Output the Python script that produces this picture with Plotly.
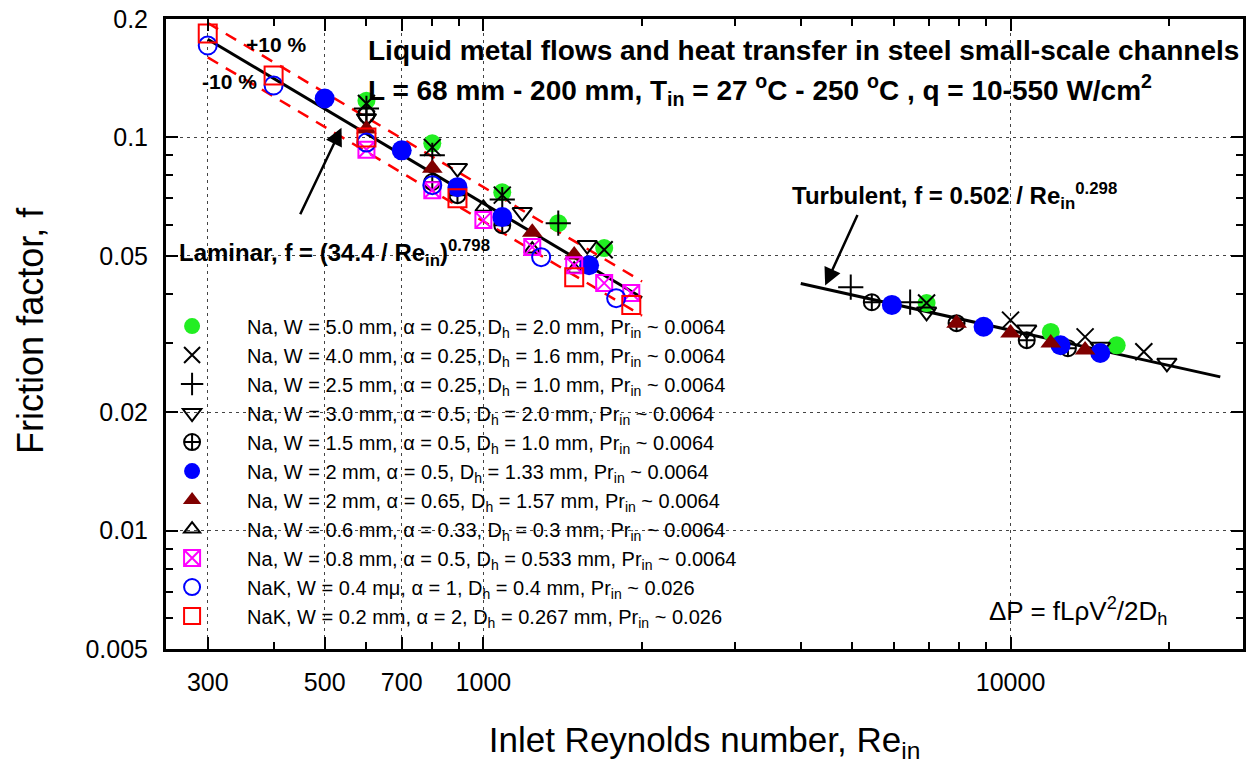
import plotly.graph_objects as go

# ---------------- data ----------------
green_re = [600, 800, 1086, 1387, 1695, 6930, 11920, 15900]
green_f = [0.124, 0.0966, 0.0725, 0.0605, 0.0523, 0.0379, 0.0320, 0.0296]

x_re = [600, 800, 1086, 1695, 6930, 10000, 13850, 17900]
x_f = [0.122, 0.0943, 0.0713, 0.0518, 0.0379, 0.0343, 0.0311, 0.0285]

plus_re = [600, 800, 1086, 1387, 4976, 6450]
plus_f = [0.1185, 0.090, 0.0695, 0.0605, 0.0416, 0.0381]

tdown_re = [600, 893, 1185, 1574, 6930, 10734, 14800, 19800]
tdown_f = [0.1117, 0.0835, 0.0645, 0.0532, 0.0360, 0.0324, 0.0293, 0.0267]

ccross_re = [600, 800, 893, 1086, 5456, 7900, 10734, 12850]
ccross_f = [0.114, 0.077, 0.0713, 0.0598, 0.0381, 0.0337, 0.0305, 0.0291]

blue_re = [500, 700, 893, 1086, 1587, 5956, 8890, 12440, 14800]
blue_f = [0.1256, 0.0927, 0.0747, 0.0627, 0.0473, 0.0375, 0.0330, 0.0296, 0.0283]

tri_re = [600, 800, 1238, 1487, 7900, 10000, 11920, 13850]
tri_f = [0.105, 0.0835, 0.0574, 0.0502, 0.0337, 0.0318, 0.0300, 0.0288]

tup_re = [1000, 1238, 1487]
tup_f = [0.0664, 0.0520, 0.0462]

mag_re = [600, 800, 1000, 1238, 1487, 1695, 1908]
mag_f = [0.093, 0.0734, 0.0616, 0.0526, 0.0473, 0.0426, 0.0402]

ocirc_re = [300, 400, 600, 800, 1287, 1786]
ocirc_f = [0.1712, 0.1355, 0.097, 0.0756, 0.0496, 0.0390]

osq_re = [300, 400, 600, 893, 1487, 1908]
osq_f = [0.1837, 0.1437, 0.100, 0.070, 0.0441, 0.0375]

# correlation lines (end points; straight on log-log axes)
lam_re = [300, 2000]
lam_f = [0.1776, 0.0391]
lam_hi_f = [0.1954, 0.0430]
lam_lo_f = [0.1598, 0.0352]
turb_re = [4000, 25000]
turb_f = [0.0425, 0.0246]

legend_names = [
    "Na, W = 5.0 mm, \u03b1 = 0.25, D<sub>h</sub> = 2.0 mm, Pr<sub>in</sub> ~ 0.0064",
    "Na, W = 4.0 mm, \u03b1 = 0.25, D<sub>h</sub> = 1.6 mm, Pr<sub>in</sub> ~ 0.0064",
    "Na, W = 2.5 mm, \u03b1 = 0.25, D<sub>h</sub> = 1.0 mm, Pr<sub>in</sub> ~ 0.0064",
    "Na, W = 3.0 mm, \u03b1 = 0.5, D<sub>h</sub> = 2.0 mm, Pr<sub>in</sub> ~ 0.0064",
    "Na, W = 1.5 mm, \u03b1 = 0.5, D<sub>h</sub> = 1.0 mm, Pr<sub>in</sub> ~ 0.0064",
    "Na, W = 2 mm, \u03b1 = 0.5, D<sub>h</sub> = 1.33 mm, Pr<sub>in</sub> ~ 0.0064",
    "Na, W = 2 mm, \u03b1 = 0.65, D<sub>h</sub> = 1.57 mm, Pr<sub>in</sub> ~ 0.0064",
    "Na, W = 0.6 mm, \u03b1 = 0.33, D<sub>h</sub> = 0.3 mm, Pr<sub>in</sub> ~ 0.0064",
    "Na, W = 0.8 mm, \u03b1 = 0.5, D<sub>h</sub> = 0.533 mm, Pr<sub>in</sub> ~ 0.0064",
    "NaK, W = 0.4 m\u03bc, \u03b1 = 1, D<sub>h</sub> = 0.4 mm, Pr<sub>in</sub> ~ 0.026",
    "NaK, W = 0.2 mm, \u03b1 = 2, D<sub>h</sub> = 0.267 mm, Pr<sub>in</sub> ~ 0.026",
]

x_tickvals = [300, 500, 700, 1000, 10000]
x_minor = [400, 600, 800, 900, 2000, 3000, 4000, 5000, 6000, 7000, 8000, 9000, 20000]
y_tickvals = [0.005, 0.01, 0.02, 0.05, 0.1, 0.2]
y_ticktext = ["0.005", "0.01", "0.02", "0.05", "0.1", "0.2"]
y_minor = [0.006, 0.007, 0.008, 0.009, 0.03, 0.04, 0.06, 0.07, 0.08, 0.09]

FONT = "Liberation Sans, Arial, sans-serif"

fig = go.Figure()

# fit lines
fig.add_trace(go.Scatter(x=lam_re, y=lam_hi_f, mode="lines", showlegend=False,
                         line=dict(color="#ff0000", width=2.5, dash="12px,9px")))
fig.add_trace(go.Scatter(x=lam_re, y=lam_lo_f, mode="lines", showlegend=False,
                         line=dict(color="#ff0000", width=2.5, dash="12px,9px")))
fig.add_trace(go.Scatter(x=lam_re, y=lam_f, mode="lines", showlegend=False,
                         line=dict(color="black", width=3)))
fig.add_trace(go.Scatter(x=turb_re, y=turb_f, mode="lines", showlegend=False,
                         line=dict(color="black", width=3)))

series = [
    (green_re, green_f, dict(symbol="circle", size=18, color="#22ee22")),
    (x_re, x_f, dict(symbol="x-thin-open", size=17, color="black", line=dict(width=2, color="black"))),
    (plus_re, plus_f, dict(symbol="cross-thin-open", size=18, color="black", line=dict(width=2, color="black"))),
    (tdown_re, tdown_f, dict(symbol="triangle-down-open", size=17, color="black", line=dict(width=2, color="black"))),
    (ccross_re, ccross_f, dict(symbol="circle-cross-open", size=16, color="black", line=dict(width=2, color="black"))),
    (blue_re, blue_f, dict(symbol="circle", size=20, color="#0000ff")),
    (tri_re, tri_f, dict(symbol="triangle-up", size=18, color="#800000")),
    (tup_re, tup_f, dict(symbol="triangle-up-open", size=14, color="black", line=dict(width=2, color="black"))),
    (mag_re, mag_f, dict(symbol="square-x-open", size=16, color="#ff00ff", line=dict(width=2, color="#ff00ff"))),
    (ocirc_re, ocirc_f, dict(symbol="circle-open", size=18, color="#0000ff", line=dict(width=2, color="#0000ff"))),
    (osq_re, osq_f, dict(symbol="square-open", size=18, color="#ff0000", line=dict(width=2, color="#ff0000"))),
]
for (xs, ys, mk), name in zip(series, legend_names):
    fig.add_trace(go.Scatter(x=xs, y=ys, mode="markers", name=name, marker=mk))

L, R, T, B = 166, 1246, 18, 649


def px(xp):
    return (xp - L) / (R - L)


def py(yp):
    return (B - yp) / (B - T)


ann = []
bold = dict(family=FONT, size=28, color="black")
ann.append(dict(x=px(367), y=py(50), xref="paper", yref="paper", xanchor="left", yanchor="middle",
                text="<b>Liquid metal flows and heat transfer in steel small-scale channels</b>",
                showarrow=False, font=bold))
ann.append(dict(x=px(367), y=py(89), xref="paper", yref="paper", xanchor="left", yanchor="middle",
                text="<b>L = 68 mm - 200 mm, T<sub>in</sub> = 27 <sup>o</sup>C - 250 <sup>o</sup>C , q = 10-550 W/cm<sup>2</sup></b>",
                showarrow=False, font=bold))
ann.append(dict(x=px(276), y=py(44), xref="paper", yref="paper", xanchor="center", yanchor="middle",
                text="<b>+10 %</b>", showarrow=False, font=dict(family=FONT, size=21, color="black")))
ann.append(dict(x=px(230), y=py(81), xref="paper", yref="paper", xanchor="center", yanchor="middle",
                text="<b>-10 %</b>", showarrow=False, font=dict(family=FONT, size=21, color="black")))
ann.append(dict(x=px(177), y=py(252), xref="paper", yref="paper", xanchor="left", yanchor="middle",
                text="<b>Laminar, f = (34.4 / Re<sub>in</sub>)<sup>0.798</sup></b>",
                showarrow=False, font=dict(family=FONT, size=24, color="black")))
ann.append(dict(x=px(792), y=py(195), xref="paper", yref="paper", xanchor="left", yanchor="middle",
                text="<b>Turbulent, f = 0.502 / Re<sub>in</sub><sup>0.298</sup></b>",
                showarrow=False, font=dict(family=FONT, size=24, color="black")))
ann.append(dict(x=px(989), y=py(611), xref="paper", yref="paper", xanchor="left", yanchor="middle",
                text="\u0394P = fL\u03c1V<sup>2</sup>/2D<sub>h</sub>",
                showarrow=False, font=dict(family=FONT, size=26, color="black")))
ann.append(dict(x=px(30), y=py(330), xref="paper", yref="paper", xanchor="center", yanchor="middle",
                text="Friction factor, f", textangle=-90,
                showarrow=False, font=dict(family=FONT, size=36, color="black")))
# arrows
ann.append(dict(x=px(342), y=py(127), xref="paper", yref="paper", ax=-42, ay=88, text="",
                showarrow=True, arrowhead=2, arrowsize=1.4, arrowwidth=2.5, arrowcolor="black"))
ann.append(dict(x=px(827), y=py(285), xref="paper", yref="paper", ax=33, ay=-72, text="",
                showarrow=True, arrowhead=2, arrowsize=1.4, arrowwidth=2.5, arrowcolor="black"))

axis_common = dict(
    type="log", showline=True, linewidth=3, linecolor="black", mirror="ticks",
    ticks="inside", ticklen=12, tickwidth=2, tickcolor="black",
    showgrid=True, gridcolor="#444444", gridwidth=1, griddash="3px,4px",
    zeroline=False, tickfont=dict(family=FONT, size=25, color="black"),
)

fig.update_xaxes(**axis_common, range=[2.39794, 4.441],
                 tickvals=x_tickvals, ticktext=[str(v) for v in x_tickvals],
                 minor=dict(tickvals=x_minor, ticks="inside", ticklen=7, tickwidth=2,
                            tickcolor="black", showgrid=False),
                 ticklabelstandoff=9,
                 title=dict(text="Inlet Reynolds number, Re<sub>in</sub>",
                            font=dict(family=FONT, size=35, color="black"), standoff=33))
fig.update_yaxes(**axis_common, range=[-2.30103, -0.69897],
                 tickvals=y_tickvals, ticktext=y_ticktext,
                 minor=dict(tickvals=y_minor, ticks="inside", ticklen=7, tickwidth=2,
                            tickcolor="black", showgrid=False),
                 ticklabelstandoff=10)

fig.update_layout(
    width=1251, height=769,
    margin=dict(l=L, r=1251 - R, t=T, b=769 - B),
    paper_bgcolor="white", plot_bgcolor="white",
    font=dict(family=FONT, color="black"),
    annotations=ann,
    legend=dict(x=px(137), y=py(306), xanchor="left", yanchor="top",
                bgcolor="rgba(0,0,0,0)", borderwidth=0,
                font=dict(family=FONT, size=20, color="black"),
                itemwidth=100, tracegroupgap=0),
)

fig.write_html("out.html")
